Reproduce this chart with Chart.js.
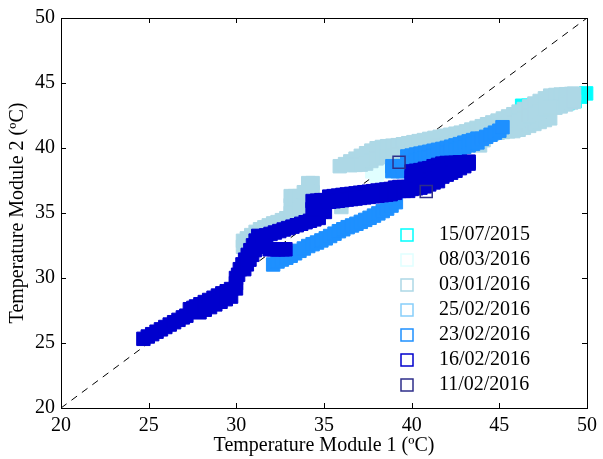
<!DOCTYPE html>
<html lang="en">
<head>
<meta charset="UTF-8">
<title>Temperature Module 1 vs Module 2</title>
<script src="https://cdn.jsdelivr.net/npm/chart.js"></script>
<style>
    html, body {
        margin: 0;
        padding: 0;
        background-color: #fff;
    }
    #wrap {
        width: 603px;
        height: 459px;
    }
</style>
</head>
<body>
<div id="wrap"><canvas id="scatter" width="603" height="459"></canvas></div>
<script>
    // [module 1, module 2] temperature pairs in ºC, one array per test day
    const jul15 = [[46.3, 43.25], [46.65, 43.25], [47.0, 43.28], [47.35, 43.3], [47.7, 43.33], [48.1, 43.36],
        [48.5, 43.4], [48.9, 43.45], [49.3, 43.6], [49.65, 43.95], [49.95, 44.2]];

    const mar08 = [[37.75, 38.2], [38.25, 38.2], [38.0, 37.85]];

    const jan03 = [
        // lower tail and the two-step bump
        [30.38, 32.4], [30.38, 32.86], [30.6, 33.05], [30.85, 33.3], [31.1, 33.55], [31.35, 33.75], [31.6, 33.9],
        [31.85, 34.05], [32.1, 34.2], [32.35, 34.3], [32.6, 34.45], [32.85, 34.6],
        [33.1, 36.3], [33.35, 36.3], [33.1, 35.6], [33.35, 35.6], [33.1, 35.0], [33.6, 35.7], [33.85, 36.0],
        [33.6, 36.3], [33.85, 36.6], [33.6, 35.3],
        [34.1, 37.3], [34.35, 37.3], [34.1, 36.6], [34.35, 36.6], [34.1, 35.9], [34.35, 35.9],
        [35.99, 35.46],
        // upper edge of the main band
        [35.9, 38.6], [36.2, 38.76], [36.5, 38.97], [36.8, 39.18], [37.1, 39.4], [37.4, 39.6], [37.7, 39.8],
        [38.0, 39.98], [38.3, 40.08], [38.6, 40.14], [38.9, 40.18], [39.2, 40.22], [39.5, 40.29], [39.8, 40.37],
        [40.1, 40.45], [40.4, 40.53], [40.7, 40.61], [41.0, 40.7], [41.3, 40.78], [41.6, 40.86], [41.9, 40.94],
        [42.2, 41.02], [42.5, 41.1], [42.8, 41.18], [43.1, 41.28], [43.4, 41.42], [43.7, 41.55], [44.0, 41.68],
        [44.3, 41.83], [44.6, 41.97], [44.9, 42.11], [45.2, 42.27], [45.5, 42.43], [45.8, 42.6], [46.1, 42.8],
        [46.4, 43.0], [46.7, 43.2], [47.0, 43.42], [47.3, 43.62], [47.6, 43.82], [47.9, 44.03], [48.2, 44.08],
        [48.5, 44.11], [48.8, 44.14], [49.1, 44.16], [49.26, 44.18],
        // lower edge of the main band
        [36.5, 38.68], [36.8, 38.7], [37.1, 38.72], [37.4, 38.8], [37.7, 39.0], [38.0, 39.2], [38.3, 39.3],
        [38.6, 39.35], [38.9, 39.4], [39.2, 39.45], [39.6, 39.6], [40.0, 39.75], [40.5, 39.9], [41.0, 40.05],
        [41.5, 40.2], [42.0, 40.35], [42.5, 40.5], [43.0, 40.65], [43.5, 40.8],
        [43.9, 40.2], [44.1, 40.6], [44.3, 41.05], [44.6, 41.1], [44.9, 41.17], [45.2, 41.23], [45.5, 41.28],
        [45.8, 41.3], [46.1, 41.4], [46.4, 41.55], [46.7, 41.7], [47.0, 41.85], [47.3, 42.0], [47.6, 42.15],
        [47.9, 42.28], [48.2, 43.1], [48.5, 43.2], [48.8, 43.35], [49.1, 43.5], [49.26, 43.58],
        // middle of the wide right part
        [45.2, 41.75], [45.5, 41.85], [45.8, 41.95], [46.1, 42.1], [46.4, 42.27], [46.7, 42.45], [47.0, 42.63],
        [47.3, 42.8], [47.6, 42.98], [47.9, 43.15]
    ];

    const feb25 = [[40.6, 39.0], [41.2, 39.3], [41.8, 39.5]];

    const feb23 = [
        [32.1, 31.04], [32.35, 31.27], [32.6, 31.42], [32.85, 31.56], [33.1, 31.71], [33.35, 31.9], [33.6, 32.09],
        [33.85, 32.27], [34.1, 32.46], [34.35, 32.6], [34.6, 32.73], [34.85, 32.89], [35.1, 33.05], [35.35, 33.23],
        [35.6, 33.41], [35.85, 33.6], [36.1, 33.75], [36.35, 33.91], [36.6, 34.04], [36.85, 34.17], [37.1, 34.32],
        [37.35, 34.47], [37.6, 34.63], [37.85, 34.8], [38.1, 34.97], [38.35, 35.15], [38.6, 35.34], [38.85, 35.57],
        [39.1, 35.83],
        [38.9, 38.6], [38.9, 38.22], [39.2, 38.6], [39.2, 38.22], [39.5, 38.6], [39.5, 38.22],
        [39.75, 39.35], [39.75, 38.85], [40.0, 39.42], [40.0, 38.91], [40.25, 39.5], [40.25, 39.0],
        [40.5, 39.57], [40.5, 39.1], [40.75, 39.64], [40.75, 39.19], [41.0, 39.71], [41.0, 39.28],
        [41.25, 39.79], [41.25, 39.38], [41.5, 39.86], [41.5, 39.47], [41.75, 39.93], [41.75, 39.56],
        [42.0, 40.01], [42.0, 39.65], [42.25, 40.1], [42.25, 39.75], [42.5, 40.2], [42.5, 39.86],
        [42.75, 40.3], [42.75, 39.97], [43.0, 40.41], [43.0, 40.09], [43.25, 40.51], [43.25, 40.2],
        [43.5, 40.61], [43.5, 40.32], [43.75, 40.72], [43.75, 40.43], [44.0, 40.7], [44.25, 40.86],
        [44.5, 41.02], [44.75, 41.18], [45.0, 41.33], [45.18, 41.6]
    ];

    const feb16 = [
        [24.7, 25.32], [24.95, 25.5], [25.2, 25.68], [25.45, 25.87], [25.7, 26.05], [25.95, 26.23], [26.2, 26.42],
        [26.45, 26.6], [26.7, 26.78], [26.95, 26.97],
        [27.15, 27.1], [27.35, 27.6], [27.55, 27.7],
        [27.7, 27.81], [27.95, 27.98], [28.2, 28.15], [28.45, 28.31], [28.7, 28.48], [28.95, 28.65], [29.2, 28.82],
        [29.45, 28.98], [29.7, 29.15],
        [27.9, 27.36], [28.2, 27.56], [28.5, 27.76], [28.8, 27.97], [29.1, 28.17], [29.4, 28.37], [29.7, 28.57],
        [29.98, 29.2], [29.98, 29.6], [29.98, 30.0], [30.1, 30.25],
        [30.2, 30.68], [30.35, 31.05], [30.5, 31.41], [30.65, 31.78], [30.8, 32.14], [30.95, 32.51], [31.1, 32.88],
        [31.25, 33.24],
        [30.45, 30.68], [30.6, 31.05], [30.75, 31.41], [30.9, 31.78], [31.05, 32.14],
        [31.62, 32.4], [31.9, 32.21], [32.15, 32.21], [32.4, 32.21], [32.65, 32.21], [32.8, 32.21],
        [31.45, 33.17], [31.7, 33.28], [31.95, 33.39], [32.2, 33.5], [32.45, 33.61], [32.7, 33.73], [32.95, 33.84],
        [33.2, 33.95], [33.45, 34.06], [33.7, 34.17], [33.95, 34.29], [34.2, 34.4], [34.45, 34.51], [34.7, 34.62],
        [34.35, 35.92], [34.6, 35.95], [34.85, 35.99], [35.05, 35.99], [34.6, 35.2], [34.85, 35.1], [35.05, 35.08],
        [34.35, 35.3],
        [35.3, 36.26], [35.55, 36.3], [35.8, 36.34], [36.05, 36.39], [36.3, 36.43], [36.55, 36.47], [36.8, 36.51],
        [37.05, 36.56], [37.3, 36.6], [37.55, 36.64], [37.8, 36.68], [38.05, 36.73], [38.3, 36.77], [38.55, 36.81],
        [38.8, 36.85], [39.05, 36.95], [39.3, 37.0], [39.55, 37.0], [39.8, 37.0],
        [35.3, 35.86], [35.55, 35.9], [35.8, 35.94], [36.05, 35.99], [36.3, 36.03], [36.55, 36.07], [36.8, 36.11],
        [37.05, 36.16], [37.3, 36.2], [37.55, 36.24], [37.8, 36.28], [38.05, 36.33], [38.3, 36.37], [38.55, 36.41],
        [38.8, 36.45], [39.05, 36.55], [39.3, 36.7], [39.55, 36.7], [39.8, 36.7],
        [40.0, 38.2], [40.0, 37.75], [40.0, 37.3], [40.0, 36.85],
        [40.25, 38.25], [40.25, 37.8], [40.25, 37.35], [40.25, 36.9],
        [40.5, 38.3], [40.5, 37.85], [40.5, 37.4], [40.5, 36.95],
        [40.75, 38.4], [40.75, 37.9], [40.75, 37.45], [40.75, 37.05],
        [41.0, 38.45], [41.0, 38.0], [41.0, 37.55], [41.0, 37.2],
        [41.25, 38.6], [41.25, 38.1], [41.25, 37.65], [41.25, 37.35],
        [41.5, 38.7], [41.5, 38.2], [41.5, 37.7], [41.5, 37.45],
        [41.75, 38.8], [41.75, 38.3], [41.75, 37.8],
        [42.0, 38.85], [42.0, 38.35], [42.0, 37.95],
        [42.25, 38.85], [42.25, 38.4], [42.25, 38.1],
        [42.5, 38.86], [42.5, 38.25], [42.75, 38.9], [42.75, 38.45],
        [43.0, 38.9], [43.0, 38.6], [43.25, 38.95], [43.25, 38.8]
    ];

    const feb11 = [[39.28, 38.9], [40.83, 36.65]];

    const dayLabels = ['15/07/2015', '08/03/2016', '03/01/2016', '25/02/2016', '23/02/2016', '16/02/2016', '11/02/2016'];
    const dayColors = ['#00ffff', '#e0ffff', '#add8e6', '#87cefa', '#1e90ff', '#0000cd', '#2e2e8a'];
    const axisTicks = [20, 25, 30, 35, 40, 45, 50];

    const series = [jul15, mar08, jan03, feb25, feb23, feb16, feb11];

    Chart.defaults.font.family = "'Liberation Serif', 'Times New Roman', serif";
    Chart.defaults.font.size = 20;
    Chart.defaults.color = '#000';

    // later days are drawn over earlier ones; the last one is hollow
    const datasets = series.map((pairs, i) => ({
        label: dayLabels[i],
        data: pairs.map(p => ({ x: p[0], y: p[1] })),
        pointStyle: 'rect',
        pointRadius: i === 6 ? 8.5 : 9.5,
        borderWidth: i === 6 ? 1.5 : 1,
        borderColor: dayColors[i],
        backgroundColor: i === 6 ? 'rgba(0,0,0,0)' : dayColors[i],
        order: 7 - i,
        clip: false
    }));

    // 1:1 reference line
    datasets.push({
        type: 'line',
        label: '',
        data: [{ x: 20, y: 20 }, { x: 50, y: 50 }],
        borderColor: '#000',
        borderWidth: 1,
        borderDash: [7, 6],
        pointRadius: 0,
        order: 10
    });

    // box with inward ticks, plus the legend inside the plot
    const frameAndLegend = {
        id: 'frameAndLegend',
        afterDatasetsDraw(chart) {
            const { ctx, chartArea: a, scales: { x, y } } = chart;
            ctx.save();
            ctx.strokeStyle = '#000';
            ctx.lineWidth = 1;
            ctx.beginPath();
            axisTicks.forEach(v => {
                const px = Math.round(x.getPixelForValue(v)) + 0.5;
                ctx.moveTo(px, a.bottom);
                ctx.lineTo(px, a.bottom - 5);
                ctx.moveTo(px, a.top);
                ctx.lineTo(px, a.top + 5);
                const py = Math.round(y.getPixelForValue(v)) + 0.5;
                ctx.moveTo(a.left, py);
                ctx.lineTo(a.left + 5, py);
                ctx.moveTo(a.right, py);
                ctx.lineTo(a.right - 5, py);
            });
            ctx.stroke();
            ctx.strokeRect(a.left + 0.5, a.top + 0.5, a.right - a.left, a.bottom - a.top);

            const boxX = a.right - 180;
            const rowY = a.bottom - 173;
            ctx.font = "20px 'Liberation Serif', 'Times New Roman', serif";
            ctx.textBaseline = 'middle';
            ctx.textAlign = 'left';
            chart.data.datasets.filter(d => d.label).forEach((d, i) => {
                const cy = rowY + i * 25;
                ctx.strokeStyle = d.borderColor;
                ctx.lineWidth = 1.5;
                ctx.strokeRect(boxX - 6, cy - 6, 12, 12);
                ctx.fillStyle = '#000';
                ctx.fillText(d.label, boxX + 32, cy);
            });
            ctx.restore();
        }
    };

    const tickList = scale => { scale.ticks = axisTicks.map(v => ({ value: v })); };

    new Chart(document.getElementById('scatter'), {
        type: 'scatter',
        data: { datasets: datasets },
        options: {
            responsive: false,
            animation: false,
            events: [],
            layout: { padding: { top: 16, right: 13, left: 0, bottom: 0 } },
            plugins: {
                legend: { display: false },
                tooltip: { enabled: false }
            },
            scales: {
                x: {
                    type: 'linear',
                    min: 20,
                    max: 50,
                    afterBuildTicks: tickList,
                    afterFit: s => { s.height = 51; },
                    grid: { display: false, drawTicks: false },
                    border: { display: false },
                    ticks: { padding: 6, maxRotation: 0 },
                    title: {
                        display: true,
                        text: 'Temperature Module 1 (ºC)',
                        padding: { top: 0, bottom: 1 }
                    }
                },
                y: {
                    type: 'linear',
                    min: 20,
                    max: 50,
                    afterBuildTicks: tickList,
                    afterFit: s => { s.width = 61; },
                    grid: { display: false, drawTicks: false },
                    border: { display: false },
                    ticks: { padding: 6 },
                    title: {
                        display: true,
                        text: 'Temperature Module 2 (ºC)',
                        padding: { top: 6, bottom: 0 }
                    }
                }
            }
        },
        plugins: [frameAndLegend]
    });
</script>
</body>
</html>
